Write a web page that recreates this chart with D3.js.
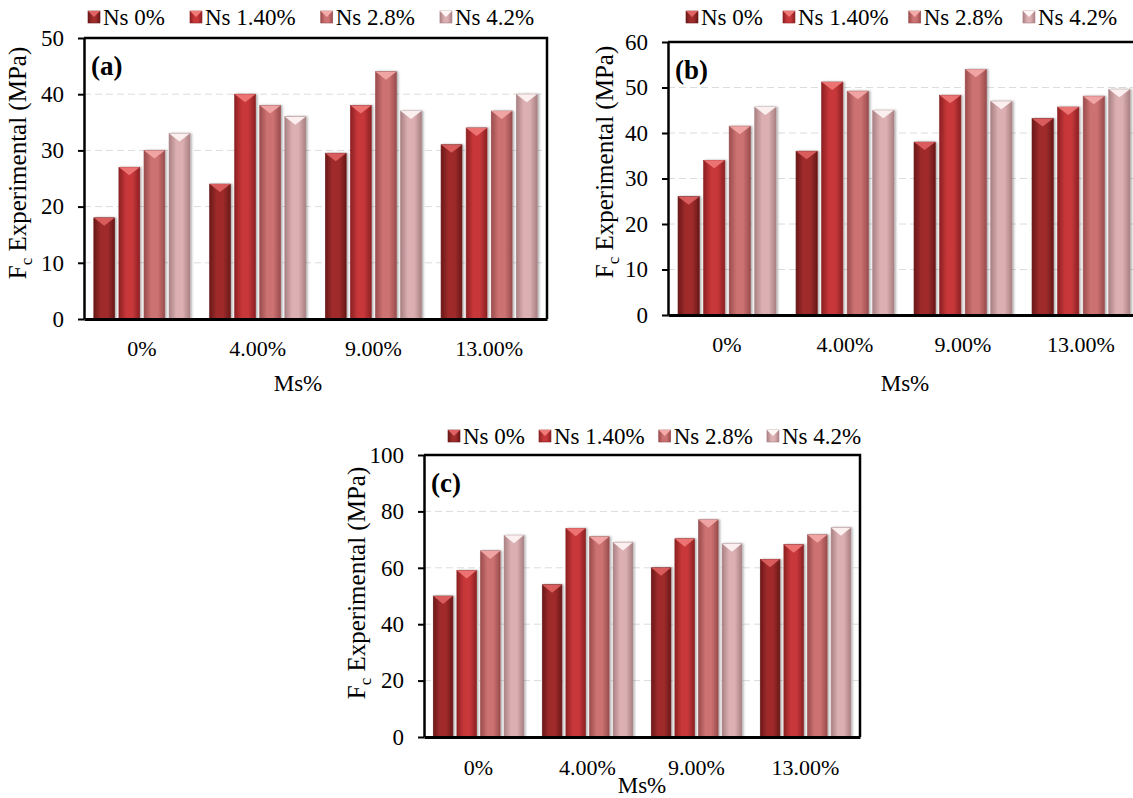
<!DOCTYPE html>
<html>
<head>
<meta charset="utf-8" />
<title>Fc Experimental vs Ms%</title>
<script src="https://d3js.org/d3.v7.min.js"></script>
<style>
  html, body { margin: 0; padding: 0; background: #fff; }
  svg { display: block; }
  text { font-family: "Liberation Serif", "Times New Roman", serif; fill: #000; }
  .grid line { stroke: #dcdcdc; stroke-dasharray: 7 4; stroke-width: 1; }
</style>
</head>
<body>
<script>
// categories and series
const msLevels = ["0%", "4.00%", "9.00%", "13.00%"];
const nsSeries = ["Ns 0%", "Ns 1.40%", "Ns 2.8%", "Ns 4.2%"];

// rows follow msLevels, columns follow nsSeries
const fcA = [
  [18, 27, 30, 33],
  [24, 40, 38, 36],
  [29.5, 38, 44, 37],
  [31, 34, 37, 40]
];
const fcB = [
  [26, 34, 41.5, 45.7],
  [36, 51.2, 49.2, 45],
  [38, 48.3, 54, 47],
  [43.2, 45.7, 48.1, 49.6]
];
const fcC = [
  [50, 59, 66, 71.5],
  [54, 74, 71, 69],
  [60, 70.3, 77, 68.5],
  [63, 68.2, 71.7, 74.2]
];
const ticksA = [0, 10, 20, 30, 40, 50];
const ticksB = [0, 10, 20, 30, 40, 50, 60];
const ticksC = [0, 20, 40, 60, 80, 100];

// bar colours: dark edge, body, bevel tip
const shades = [
  { edge: "#6a1818", body: "#a02c2c", tip: "#e06262" },
  { edge: "#8c2123", body: "#c8373a", tip: "#f07a78" },
  { edge: "#9a4c4d", body: "#cd7272", tip: "#f4aaa8" },
  { edge: "#a98083", body: "#dcb0b2", tip: "#fff6f6" }
];

const W = 1133, H = 798;
const svg = d3.select("body").append("svg").attr("width", W).attr("height", H);
const defs = svg.append("defs");

shades.forEach((s, i) => {
  const g = defs.append("linearGradient").attr("id", "grad" + i)
    .attr("x1", "0%").attr("x2", "100%").attr("y1", "0%").attr("y2", "0%");
  g.append("stop").attr("offset", "0%").attr("stop-color", s.edge);
  g.append("stop").attr("offset", "35%").attr("stop-color", s.body);
  g.append("stop").attr("offset", "65%").attr("stop-color", s.body);
  g.append("stop").attr("offset", "100%").attr("stop-color", s.edge);
});
const sh = defs.append("filter").attr("id", "shadow")
  .attr("x", "-20%").attr("y", "-5%").attr("width", "160%").attr("height", "110%");
sh.append("feDropShadow").attr("dx", 1.5).attr("dy", 0).attr("stdDeviation", 1.2)
  .attr("flood-color", "#000").attr("flood-opacity", 0.35);

function drawPanel(p) {
  const g = svg.append("g");
  const x0 = d3.scaleBand().domain(msLevels).range([p.left, p.right]).padding(0);
  const bw = x0.bandwidth();
  const x1 = d3.scaleBand().domain(d3.range(nsSeries.length))
    .range([bw * 0.085, bw * 0.915]).paddingInner(0.17);
  const y = d3.scaleLinear().domain([0, d3.max(p.ticks)]).range([p.bottom, p.top]);

  // gridlines
  g.append("g").attr("class", "grid").selectAll("line")
    .data(p.ticks.slice(1, -1)).join("line")
    .attr("x1", p.left).attr("x2", p.right)
    .attr("y1", d => y(d)).attr("y2", d => y(d));

  // bars
  const groups = g.append("g").selectAll("g").data(p.values).join("g")
    .attr("transform", (d, i) => `translate(${x0(msLevels[i])},0)`);
  const bars = groups.selectAll("g").data(d => d.map((v, j) => ({ v, j }))).join("g");
  bars.append("rect")
    .attr("x", d => x1(d.j)).attr("width", x1.bandwidth())
    .attr("y", d => y(d.v)).attr("height", d => y(0) - y(d.v))
    .attr("fill", d => `url(#grad${d.j})`)
    .attr("stroke", d => shades[d.j].edge).attr("stroke-width", 0.6)
    .attr("filter", "url(#shadow)");
  bars.append("path")
    .attr("d", d => {
      const xa = x1(d.j), xb = xa + x1.bandwidth(), yt = y(d.v);
      return `M${xa},${yt}L${xb},${yt}L${(xa + xb) / 2},${yt + 8}Z`;
    })
    .attr("fill", d => shades[d.j].tip).attr("opacity", 0.9);

  // axes
  const yAxis = g.append("g").attr("transform", `translate(${p.left},0)`)
    .call(d3.axisLeft(y).tickValues(p.ticks).tickSize(6).tickSizeOuter(0).tickPadding(14));
  yAxis.selectAll("line").attr("stroke", "#000").attr("stroke-width", 2);
  yAxis.select(".domain").attr("stroke", "#000").attr("stroke-width", 2.5);
  yAxis.selectAll("text").style("font-size", "23px").attr("fill", "#000");

  const xAxis = g.append("g").attr("transform", `translate(0,${p.bottom})`)
    .call(d3.axisBottom(x0).tickSize(0).tickSizeOuter(0).tickPadding(p.xPad));
  xAxis.select(".domain").attr("stroke", "#000").attr("stroke-width", 3);
  xAxis.selectAll("text").style("font-size", "22px").attr("fill", "#000");

  // frame top and right
  g.append("path")
    .attr("d", `M${p.left},${p.top}L${p.right},${p.top}L${p.right},${p.bottom}`)
    .attr("fill", "none").attr("stroke", "#000").attr("stroke-width", 2.5);

  // panel tag
  g.append("text").attr("x", p.left + 7).attr("y", p.top + 37)
    .style("font-size", "27px").style("font-weight", "bold").text(p.tag);

  // y title
  const yt = g.append("text")
    .attr("transform", `translate(${p.yTitleX},${p.yTitleY}) rotate(-90)`)
    .attr("text-anchor", "middle").style("font-size", "25px");
  yt.append("tspan").text("F");
  yt.append("tspan").attr("dy", 6).style("font-size", "17px").text("c");
  yt.append("tspan").attr("dy", -6).text(" Experimental (MPa)");

  // x title
  g.append("text").attr("x", p.xTitleX).attr("y", p.xTitleY)
    .attr("text-anchor", "middle").attr("dy", "0.35em")
    .style("font-size", "23px").text("Ms%");

  // legend
  let lx = p.legX;
  nsSeries.forEach((name, j) => {
    const it = g.append("g").attr("transform", `translate(${lx},${p.legY})`);
    it.append("rect").attr("x", 0).attr("y", -6).attr("width", 12).attr("height", 12)
      .attr("fill", `url(#grad${j})`).attr("stroke", shades[j].edge).attr("stroke-width", 0.6);
    it.append("path").attr("d", "M0,-6L12,-6L6,0Z").attr("fill", shades[j].tip);
    const t = it.append("text").attr("x", 15).attr("dy", "0.35em")
      .style("font-size", "23px").text(name);
    lx += 15 + t.node().getComputedTextLength() + p.legGap;
  });
}

drawPanel({ values: fcA, ticks: ticksA, left: 84, right: 547, top: 38, bottom: 319,
  xPad: 21, tag: "(a)", yTitleX: 26, yTitleY: 163, xTitleX: 298, xTitleY: 383,
  legX: 88, legY: 17, legGap: 25 });
drawPanel({ values: fcB, ticks: ticksB, left: 668, right: 1140, top: 42, bottom: 315,
  xPad: 21, tag: "(b)", yTitleX: 613, yTitleY: 162, xTitleX: 905, xTitleY: 383,
  legX: 686, legY: 17, legGap: 20 });
drawPanel({ values: fcC, ticks: ticksC, left: 424, right: 860, top: 455, bottom: 737,
  xPad: 22, tag: "(c)", yTitleX: 365, yTitleY: 583, xTitleX: 642, xTitleY: 785,
  legX: 448, legY: 436, legGap: 14 });
</script>
</body>
</html>
